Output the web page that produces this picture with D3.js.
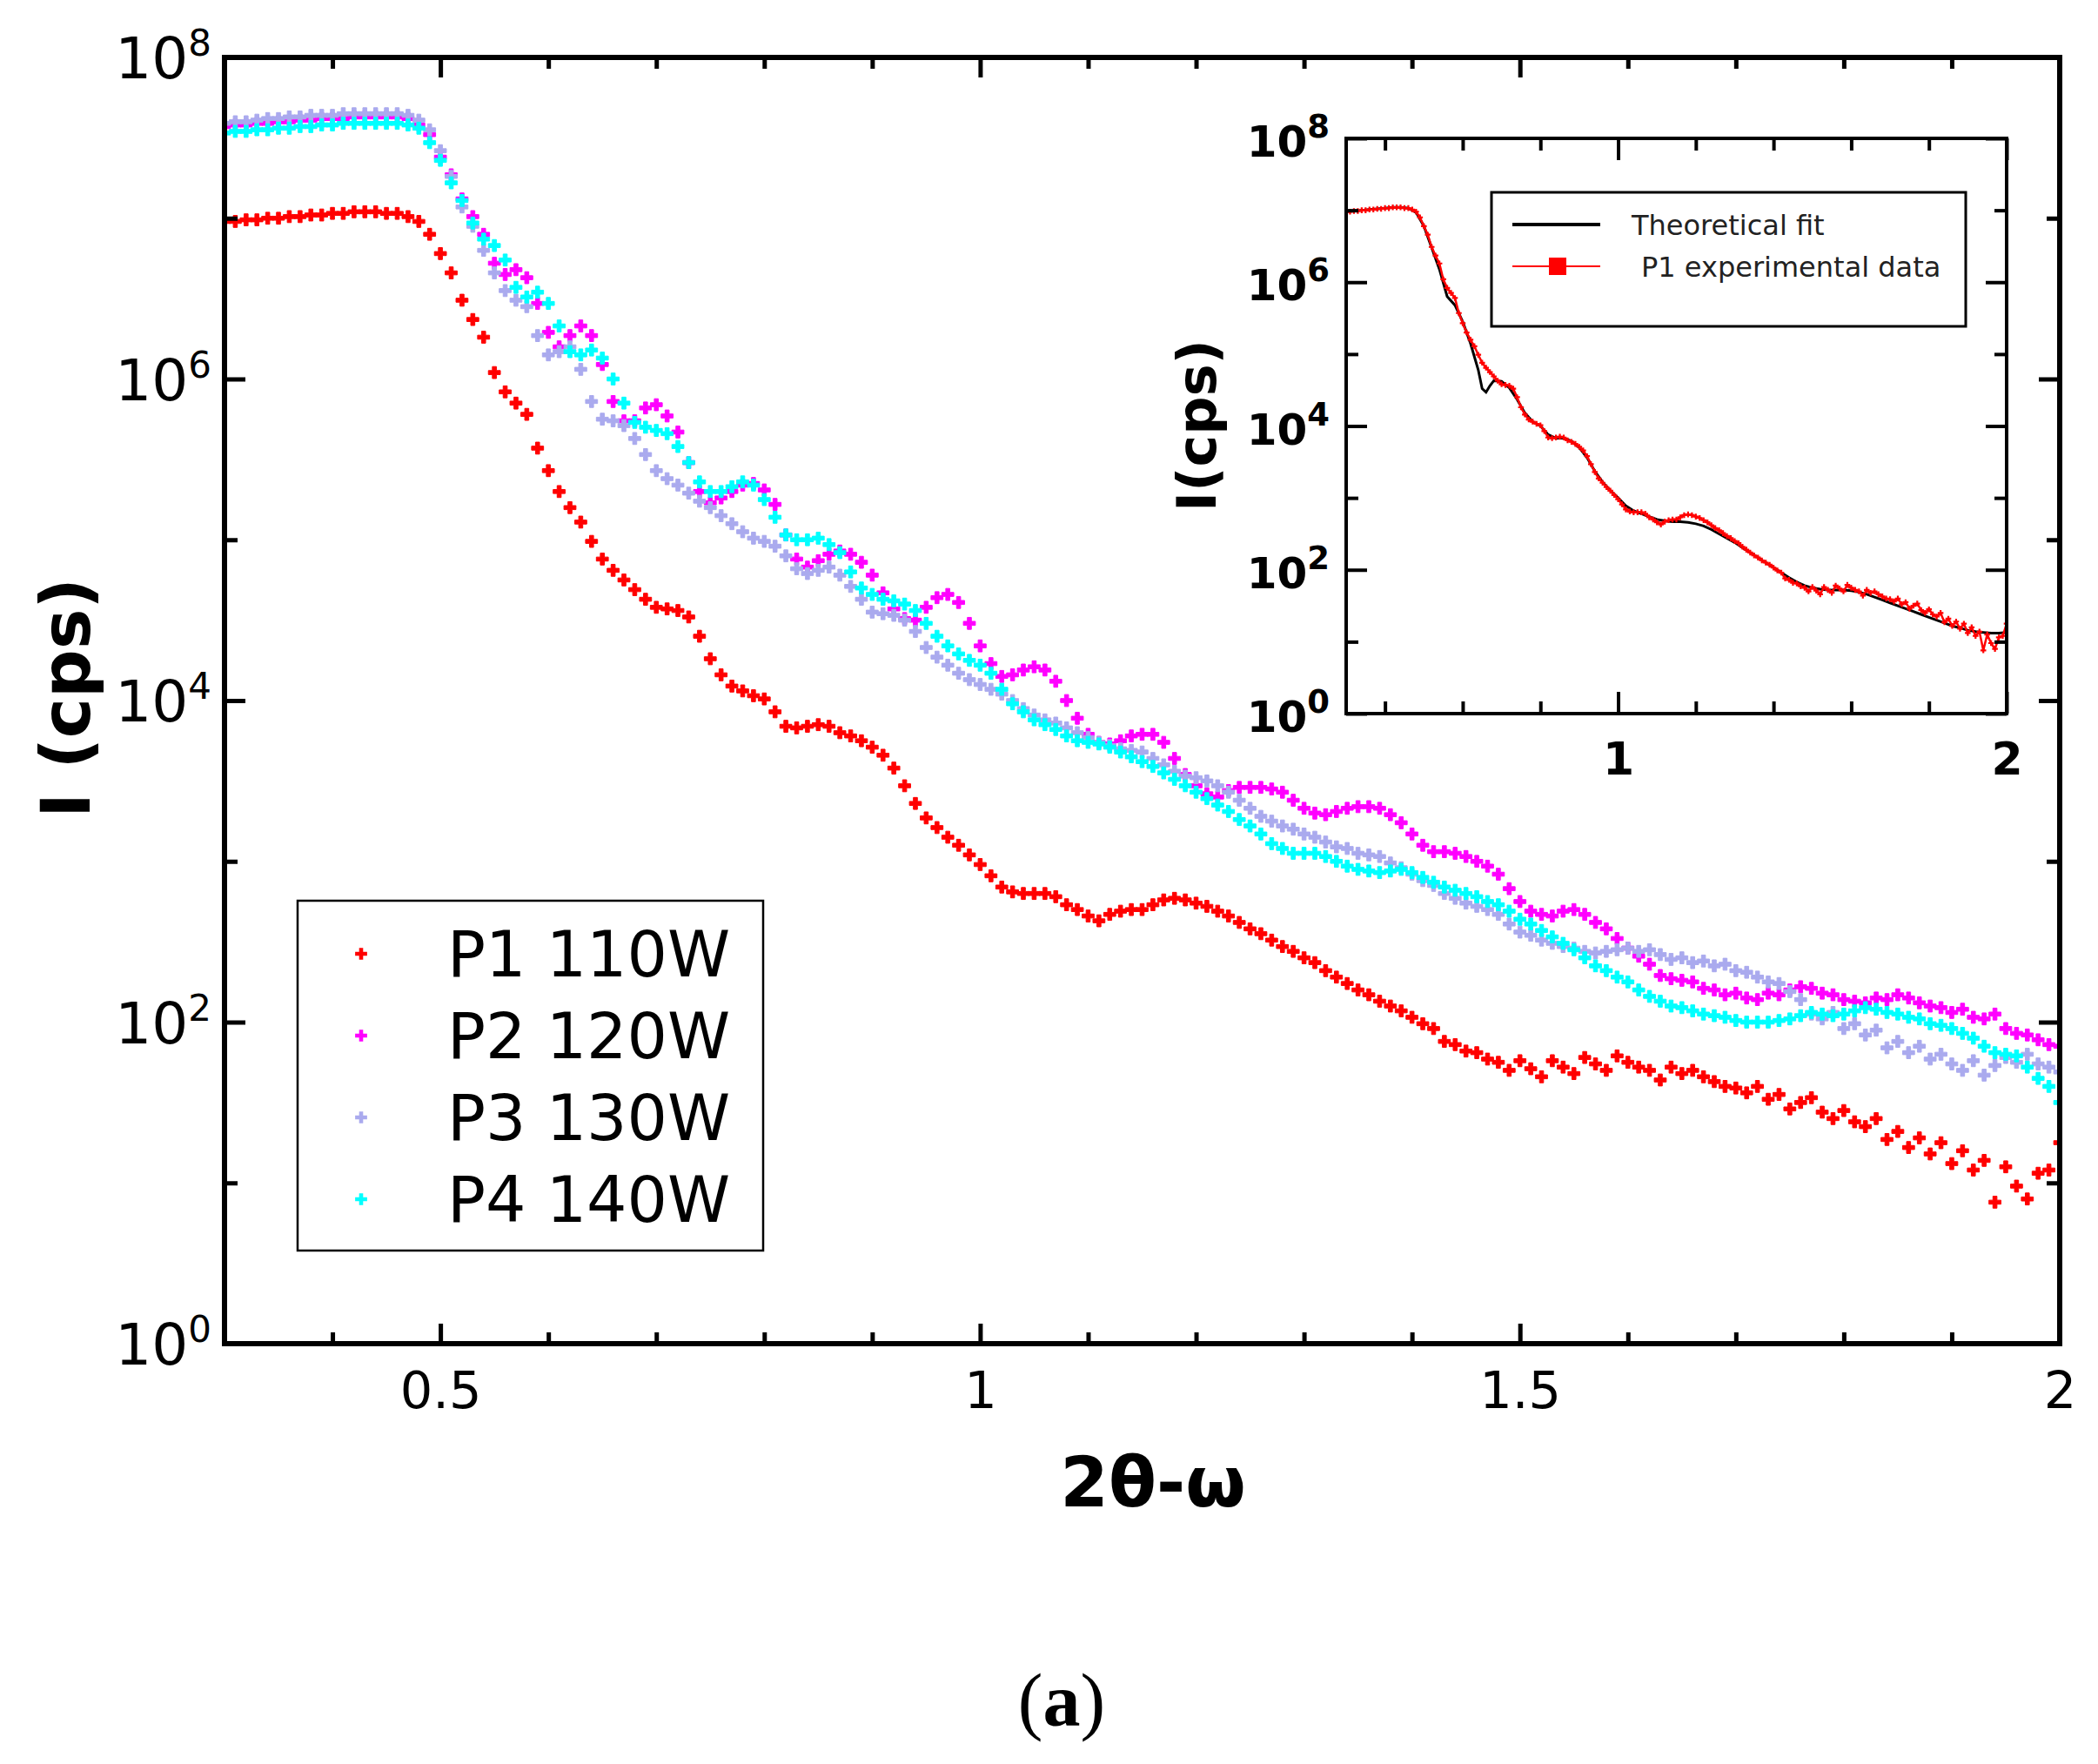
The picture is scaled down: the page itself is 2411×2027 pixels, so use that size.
<!DOCTYPE html>
<html><head><meta charset="utf-8">
<script src="https://cdn.jsdelivr.net/npm/d3@7"></script>
<style>body{margin:0;background:#fff}</style>
</head><body>
<svg id="c" width="2411" height="2027" xmlns="http://www.w3.org/2000/svg"></svg>
<script>
// ---------- DATA (log10 of intensity, sampled every 0.01 from 0.30 to 2.00) ----------
const seriesNames  = ["P1 110W", "P2 120W", "P3 130W", "P4 140W"];
const seriesColors = ["#ff0000", "#ff00ff", "#aaaaee", "#00ffff"];
const xStart = 0.30, xStep = 0.01;

const p1Log = [
 6.98,6.98,6.99,6.99,7.00,7.00,7.01,7.01,7.02,7.02,
 7.03,7.03,7.04,7.04,7.04,7.03,7.03,7.01,6.98,6.90,
 6.78,6.66,6.49,6.37,6.26,6.04,5.92,5.85,5.78,5.57,
 5.43,5.30,5.20,5.11,4.99,4.88,4.81,4.75,4.69,4.63,
 4.58,4.57,4.56,4.52,4.40,4.26,4.16,4.09,4.06,4.03,
 4.01,3.93,3.84,3.83,3.84,3.85,3.84,3.80,3.78,3.75,
 3.71,3.66,3.58,3.47,3.36,3.27,3.21,3.15,3.10,3.04,
 2.98,2.91,2.84,2.81,2.80,2.80,2.80,2.78,2.73,2.70,
 2.66,2.63,2.67,2.69,2.70,2.70,2.73,2.76,2.77,2.76,
 2.74,2.72,2.69,2.66,2.62,2.58,2.55,2.51,2.47,2.44,
 2.40,2.37,2.32,2.28,2.24,2.20,2.17,2.13,2.10,2.07,
 2.03,1.99,1.96,1.88,1.86,1.82,1.81,1.77,1.75,1.70,
 1.76,1.71,1.66,1.76,1.72,1.68,1.78,1.74,1.70,1.79,
 1.75,1.72,1.70,1.64,1.72,1.68,1.70,1.66,1.63,1.60,
 1.59,1.56,1.60,1.52,1.55,1.46,1.50,1.53,1.44,1.40,
 1.45,1.38,1.35,1.40,1.27,1.32,1.22,1.28,1.18,1.25,
 1.12,1.20,1.08,1.14,0.88,1.10,0.98,0.90,1.06,1.08,
 1.25];

const p2Log = [
 7.57,7.58,7.58,7.59,7.59,7.60,7.60,7.61,7.61,7.62,
 7.62,7.62,7.63,7.63,7.63,7.63,7.63,7.62,7.58,7.52,
 7.38,7.27,7.12,7.01,6.90,6.72,6.65,6.68,6.63,6.47,
 6.29,6.20,6.27,6.33,6.27,6.09,5.86,5.74,5.74,5.82,
 5.84,5.77,5.67,5.48,5.30,5.23,5.26,5.30,5.34,5.35,
 5.31,5.22,5.03,4.88,4.83,4.87,4.91,4.93,4.91,4.86,
 4.78,4.67,4.57,4.51,4.50,4.58,4.64,4.66,4.61,4.48,
 4.34,4.23,4.15,4.16,4.19,4.21,4.19,4.12,4.00,3.89,
 3.79,3.74,3.73,3.75,3.78,3.79,3.79,3.74,3.64,3.54,
 3.47,3.42,3.40,3.44,3.46,3.46,3.46,3.45,3.43,3.38,
 3.33,3.30,3.29,3.31,3.33,3.34,3.34,3.33,3.29,3.24,
 3.17,3.10,3.06,3.06,3.05,3.03,3.00,2.97,2.92,2.83,
 2.75,2.69,2.67,2.66,2.69,2.70,2.67,2.62,2.58,2.52,
 2.46,2.41,2.36,2.29,2.27,2.26,2.25,2.21,2.20,2.17,
 2.18,2.15,2.14,2.18,2.17,2.20,2.22,2.21,2.18,2.17,
 2.14,2.13,2.12,2.15,2.14,2.17,2.15,2.12,2.10,2.09,
 2.06,2.08,2.03,2.02,2.05,1.96,1.93,1.92,1.89,1.86,
 1.85];

const p3Log = [
 7.59,7.60,7.60,7.61,7.62,7.62,7.63,7.63,7.64,7.64,
 7.64,7.65,7.65,7.65,7.65,7.65,7.65,7.64,7.61,7.55,
 7.42,7.26,7.07,6.95,6.80,6.66,6.55,6.49,6.45,6.27,
 6.15,6.17,6.20,6.06,5.86,5.75,5.74,5.71,5.63,5.53,
 5.43,5.38,5.34,5.29,5.24,5.20,5.15,5.10,5.05,5.01,
 4.99,4.96,4.90,4.82,4.79,4.81,4.83,4.78,4.71,4.63,
 4.55,4.54,4.53,4.50,4.43,4.33,4.27,4.22,4.17,4.13,
 4.10,4.07,4.04,4.00,3.95,3.91,3.88,3.86,3.83,3.80,
 3.77,3.74,3.72,3.70,3.69,3.68,3.64,3.60,3.56,3.53,
 3.52,3.50,3.47,3.43,3.38,3.33,3.28,3.25,3.22,3.20,
 3.17,3.15,3.12,3.09,3.08,3.05,3.04,3.03,2.99,2.96,
 2.92,2.88,2.85,2.80,2.77,2.74,2.72,2.70,2.67,2.61,
 2.56,2.54,2.51,2.49,2.47,2.46,2.44,2.43,2.44,2.45,
 2.46,2.44,2.45,2.42,2.39,2.40,2.37,2.38,2.35,2.36,
 2.32,2.31,2.28,2.25,2.24,2.19,2.14,2.05,2.02,2.06,
 1.96,1.99,1.92,1.95,1.84,1.88,1.81,1.85,1.77,1.80,
 1.74,1.70,1.76,1.67,1.73,1.78,1.75,1.80,1.74,1.72,
 1.69];

const p4Log = [
 7.53,7.54,7.54,7.55,7.55,7.56,7.56,7.57,7.57,7.58,
 7.58,7.59,7.59,7.59,7.59,7.59,7.59,7.58,7.56,7.47,
 7.36,7.22,7.11,6.97,6.87,6.83,6.74,6.57,6.51,6.54,
 6.47,6.33,6.17,6.15,6.18,6.13,6.00,5.85,5.73,5.70,
 5.68,5.66,5.58,5.48,5.36,5.30,5.30,5.33,5.36,5.34,
 5.25,5.14,5.03,5.00,5.00,5.01,4.97,4.92,4.80,4.70,
 4.66,4.63,4.62,4.60,4.56,4.48,4.40,4.34,4.29,4.25,
 4.22,4.17,4.07,3.98,3.93,3.88,3.85,3.82,3.78,3.75,
 3.74,3.73,3.71,3.68,3.65,3.62,3.59,3.55,3.51,3.47,
 3.43,3.39,3.35,3.31,3.26,3.22,3.17,3.11,3.08,3.05,
 3.05,3.05,3.03,3.00,2.97,2.95,2.94,2.93,2.94,2.95,
 2.93,2.90,2.87,2.84,2.82,2.80,2.78,2.75,2.73,2.69,
 2.64,2.61,2.57,2.53,2.49,2.45,2.40,2.35,2.32,2.28,
 2.25,2.20,2.16,2.13,2.10,2.09,2.07,2.05,2.04,2.03,
 2.01,2.00,2.00,2.00,2.01,2.02,2.04,2.06,2.05,2.04,
 2.05,2.07,2.09,2.08,2.06,2.05,2.03,2.02,1.99,1.98,
 1.96,1.93,1.90,1.85,1.81,1.80,1.79,1.72,1.65,1.60,
 1.50];

// Inset: theoretical fit (log10 intensity)
const fitX = [0.30,0.32,0.34,0.36,0.38,0.40,0.42,0.44,0.46,0.48,0.50,0.52,0.54,0.56,0.58,0.60,0.62,0.64,0.65,0.66,0.67,0.68,
  0.70,0.72,0.74,0.76,0.78,0.80,0.82,0.84,0.86,0.88,0.90,0.92,0.94,0.96,0.98,1.00,1.02,1.04,1.06,1.08,1.10,1.12,1.14,1.16,1.18,
  1.20,1.22,1.24,1.26,1.28,1.30,1.32,1.34,1.36,1.38,1.40,1.42,1.44,1.46,1.48,1.50,1.52,1.54,1.56,1.58,1.60,1.62,1.64,1.66,1.68,
  1.70,1.72,1.74,1.76,1.78,1.80,1.82,1.84,1.86,1.88,1.90,1.92,1.94,1.96,1.98,2.00];
const fitLog = [6.98,6.99,7.00,7.01,7.02,7.03,7.04,7.04,7.03,6.97,6.78,6.48,6.18,5.80,5.68,5.45,5.15,4.78,4.52,4.47,4.56,4.63,
  4.62,4.53,4.37,4.18,4.06,4.00,3.88,3.83,3.83,3.79,3.70,3.56,3.37,3.22,3.10,3.00,2.89,2.82,2.78,2.74,2.70,2.68,2.67,2.67,2.66,
  2.64,2.61,2.56,2.50,2.44,2.38,2.31,2.24,2.17,2.10,2.03,1.96,1.89,1.83,1.78,1.75,1.73,1.72,1.72,1.72,1.71,1.69,1.66,1.62,1.58,
  1.54,1.50,1.46,1.42,1.38,1.34,1.30,1.26,1.22,1.19,1.16,1.14,1.13,1.12,1.12,1.13];

const xMajor = [0.5, 1, 1.5, 2];
const xTickLabels = ["0.5", "1", "1.5", "2"];
const xMinor = [0.4,0.6,0.7,0.8,0.9,1.1,1.2,1.3,1.4,1.6,1.7,1.8,1.9];
const yMajorExp = [0, 2, 4, 6, 8];
const yMinorExp = [1, 3, 5, 7];
const insetXMajor = [1, 2];
const insetXTickLabels = ["1", "2"];
const insetXMinor = [0.4,0.6,0.8,1.2,1.4,1.6,1.8];
const legendInset = ["Theoretical fit", "P1 experimental data"];

// ---------- DRAW ----------
const FONT = "'DejaVu Sans', sans-serif";
const svg = d3.select("#c");
svg.append("rect").attr("width", 2411).attr("height", 2027).attr("fill", "#fff");

const M = {l: 258, r: 2367, t: 66, b: 1544};
const x = d3.scaleLinear().domain([0.3, 2]).range([M.l, M.r]);
const y = d3.scaleLog().domain([1, 1e8]).range([M.b, M.t]);

const xs = p1Log.map((_, i) => +(xStart + i * xStep).toFixed(2));
const series = [p1Log, p2Log, p3Log, p4Log];

const defs = svg.append("defs");
defs.append("clipPath").attr("id", "mainClip").append("rect")
  .attr("x", M.l).attr("y", M.t).attr("width", M.r - M.l).attr("height", M.b - M.t);

const sym = d3.symbol().type(d3.symbolCross).size(105);
const plot = svg.append("g").attr("clip-path", "url(#mainClip)");
series.forEach((vals, si) => {
  plot.append("g").selectAll("path")
    .data(vals.map((v, j) => [xs[j], Math.pow(10, v)]))
    .join("path")
    .attr("transform", d => `translate(${x(d[0])},${y(d[1])})`)
    .attr("d", sym)
    .attr("fill", seriesColors[si])
    .attr("stroke", seriesColors[si]).attr("stroke-width", 1);
});

function styleAxis(g, sw) {
  g.select(".domain").remove();
  g.selectAll(".tick line").attr("stroke", "#000").attr("stroke-width", sw);
}

// main ticks
const yMajor = yMajorExp.map(e => Math.pow(10, e));
const yMinor = yMinorExp.map(e => Math.pow(10, e));

const gxb = svg.append("g").attr("transform", `translate(0,${M.b})`)
  .call(d3.axisBottom(x).tickValues(xMajor).tickSize(-23).tickPadding(32).tickFormat((d, i) => xTickLabels[i]));
styleAxis(gxb, 5);
gxb.selectAll("text").attr("font-size", 59).attr("font-family", FONT).attr("fill", "#000");
styleAxis(svg.append("g").attr("transform", `translate(0,${M.b})`)
  .call(d3.axisBottom(x).tickValues(xMinor).tickSize(-13).tickFormat("")), 5);
styleAxis(svg.append("g").attr("transform", `translate(0,${M.t})`)
  .call(d3.axisTop(x).tickValues(xMajor).tickSize(-23).tickFormat("")), 5);
styleAxis(svg.append("g").attr("transform", `translate(0,${M.t})`)
  .call(d3.axisTop(x).tickValues(xMinor).tickSize(-13).tickFormat("")), 5);
styleAxis(svg.append("g").attr("transform", `translate(${M.l},0)`)
  .call(d3.axisLeft(y).tickValues(yMajor).tickSize(-24).tickFormat("")), 5);
styleAxis(svg.append("g").attr("transform", `translate(${M.l},0)`)
  .call(d3.axisLeft(y).tickValues(yMinor).tickSize(-15).tickFormat("")), 5);
styleAxis(svg.append("g").attr("transform", `translate(${M.r},0)`)
  .call(d3.axisRight(y).tickValues(yMajor).tickSize(-24).tickFormat("")), 5);
styleAxis(svg.append("g").attr("transform", `translate(${M.r},0)`)
  .call(d3.axisRight(y).tickValues(yMinor).tickSize(-15).tickFormat("")), 5);

// main y labels (10^n)
yMajorExp.forEach(e => {
  const t = svg.append("text").attr("x", 243).attr("y", y(Math.pow(10, e)) + 24)
    .attr("text-anchor", "end").attr("font-family", FONT).attr("font-size", 66).attr("fill", "#000");
  t.append("tspan").text("10");
  t.append("tspan").attr("font-size", 42).attr("dy", -26).text(String(e));
});

// main frame
svg.append("rect").attr("x", M.l).attr("y", M.t).attr("width", M.r - M.l).attr("height", M.b - M.t)
  .attr("fill", "none").attr("stroke", "#000").attr("stroke-width", 6);

// axis titles
svg.append("text").attr("transform", "translate(103,802) rotate(-90)")
  .attr("text-anchor", "middle").attr("font-family", FONT).attr("font-weight", "bold")
  .attr("font-size", 78).text("I (cps)");
svg.append("text").attr("x", 1325).attr("y", 1731)
  .attr("text-anchor", "middle").attr("font-family", FONT).attr("font-weight", "bold")
  .attr("font-size", 80).text("2θ-ω");

// main legend
const lg = svg.append("g");
lg.append("rect").attr("x", 342).attr("y", 1035).attr("width", 535).attr("height", 402)
  .attr("fill", "#fff").attr("stroke", "#000").attr("stroke-width", 2.5);
seriesNames.forEach((n, i) => {
  const cy = 1096 + i * 94;
  lg.append("path").attr("transform", `translate(415,${cy})`).attr("d", sym).attr("fill", seriesColors[i]);
  lg.append("text").attr("x", 514).attr("y", cy + 26).attr("font-family", FONT)
    .attr("font-size", 73).attr("fill", "#000").text(n);
});

// ---------- INSET ----------
const I = {l: 1547, r: 2306, t: 159, b: 820};
const xi = d3.scaleLinear().domain([0.3, 2]).range([I.l, I.r]);
const yi = d3.scaleLog().domain([1, 1e8]).range([I.b, I.t]);
svg.append("rect").attr("x", I.l).attr("y", I.t).attr("width", I.r - I.l).attr("height", I.b - I.t).attr("fill", "#fff");
defs.append("clipPath").attr("id", "insetClip").append("rect")
  .attr("x", I.l).attr("y", I.t).attr("width", I.r - I.l).attr("height", I.b - I.t);
const ip = svg.append("g").attr("clip-path", "url(#insetClip)");
const fitData = fitX.map((v, i) => [v, Math.pow(10, fitLog[i])]);
const p1Data = p1Log.map((v, i) => [xs[i], Math.pow(10, v)]);
const lineI = d3.line().x(d => xi(d[0])).y(d => yi(d[1]));
ip.append("path").datum(fitData).attr("d", lineI).attr("fill", "none").attr("stroke", "#000").attr("stroke-width", 3);
ip.append("path").datum(p1Data).attr("d", lineI).attr("fill", "none").attr("stroke", "#ff0000").attr("stroke-width", 2.5);
const symS = d3.symbol().type(d3.symbolCross).size(24);
ip.append("g").selectAll("path").data(p1Data).join("path")
  .attr("transform", d => `translate(${xi(d[0])},${yi(d[1])})`).attr("d", symS).attr("fill", "#ff0000");

const gxi = svg.append("g").attr("transform", `translate(0,${I.b})`)
  .call(d3.axisBottom(xi).tickValues(insetXMajor).tickSize(-25).tickPadding(33).tickFormat((d, i) => insetXTickLabels[i]));
styleAxis(gxi, 4);
gxi.selectAll("text").attr("font-size", 52).attr("font-family", FONT).attr("font-weight", "bold").attr("fill", "#000");
styleAxis(svg.append("g").attr("transform", `translate(0,${I.b})`)
  .call(d3.axisBottom(xi).tickValues(insetXMinor).tickSize(-14).tickFormat("")), 4);
styleAxis(svg.append("g").attr("transform", `translate(0,${I.t})`)
  .call(d3.axisTop(xi).tickValues(insetXMajor).tickSize(-25).tickFormat("")), 4);
styleAxis(svg.append("g").attr("transform", `translate(0,${I.t})`)
  .call(d3.axisTop(xi).tickValues(insetXMinor).tickSize(-14).tickFormat("")), 4);
styleAxis(svg.append("g").attr("transform", `translate(${I.l},0)`)
  .call(d3.axisLeft(yi).tickValues(yMajor).tickSize(-24).tickFormat("")), 4);
styleAxis(svg.append("g").attr("transform", `translate(${I.l},0)`)
  .call(d3.axisLeft(yi).tickValues(yMinor).tickSize(-14).tickFormat("")), 4);
styleAxis(svg.append("g").attr("transform", `translate(${I.r},0)`)
  .call(d3.axisRight(yi).tickValues(yMajor).tickSize(-24).tickFormat("")), 4);
styleAxis(svg.append("g").attr("transform", `translate(${I.r},0)`)
  .call(d3.axisRight(yi).tickValues(yMinor).tickSize(-14).tickFormat("")), 4);

yMajorExp.forEach(e => {
  const t = svg.append("text").attr("x", 1528).attr("y", yi(Math.pow(10, e)) + 21)
    .attr("text-anchor", "end").attr("font-family", FONT).attr("font-weight", "bold")
    .attr("font-size", 50).attr("fill", "#000");
  t.append("tspan").text("10");
  t.append("tspan").attr("font-size", 37).attr("dy", -22).text(String(e));
});

svg.append("rect").attr("x", I.l).attr("y", I.t).attr("width", I.r - I.l).attr("height", I.b - I.t)
  .attr("fill", "none").attr("stroke", "#000").attr("stroke-width", 4);

svg.append("text").attr("transform", "translate(1397,489) rotate(-90)")
  .attr("text-anchor", "middle").attr("font-family", FONT).attr("font-weight", "bold")
  .attr("font-size", 62).text("I(cps)");

// inset legend
const il = svg.append("g");
il.append("rect").attr("x", 1714).attr("y", 221).attr("width", 545).attr("height", 154)
  .attr("fill", "#fff").attr("stroke", "#000").attr("stroke-width", 3);
il.append("line").attr("x1", 1738).attr("x2", 1839).attr("y1", 258).attr("y2", 258)
  .attr("stroke", "#000").attr("stroke-width", 4);
il.append("line").attr("x1", 1738).attr("x2", 1839).attr("y1", 306).attr("y2", 306)
  .attr("stroke", "#ff0000").attr("stroke-width", 2);
il.append("rect").attr("x", 1780).attr("y", 296).attr("width", 20).attr("height", 20).attr("fill", "#ff0000");
il.append("text").attr("x", 1875).attr("y", 270).attr("font-family", FONT).attr("font-size", 32)
  .attr("fill", "#222").text(legendInset[0]);
il.append("text").attr("x", 1886).attr("y", 318).attr("font-family", FONT).attr("font-size", 32)
  .attr("fill", "#222").text(legendInset[1]);

// panel label
const pl = svg.append("text").attr("x", 1220).attr("y", 1983).attr("text-anchor", "middle")
  .attr("font-family", "'Liberation Serif', serif").attr("font-size", 86).attr("fill", "#000");
pl.append("tspan").text("(");
pl.append("tspan").attr("font-weight", "bold").text("a");
pl.append("tspan").text(")");
</script>
</body></html>
